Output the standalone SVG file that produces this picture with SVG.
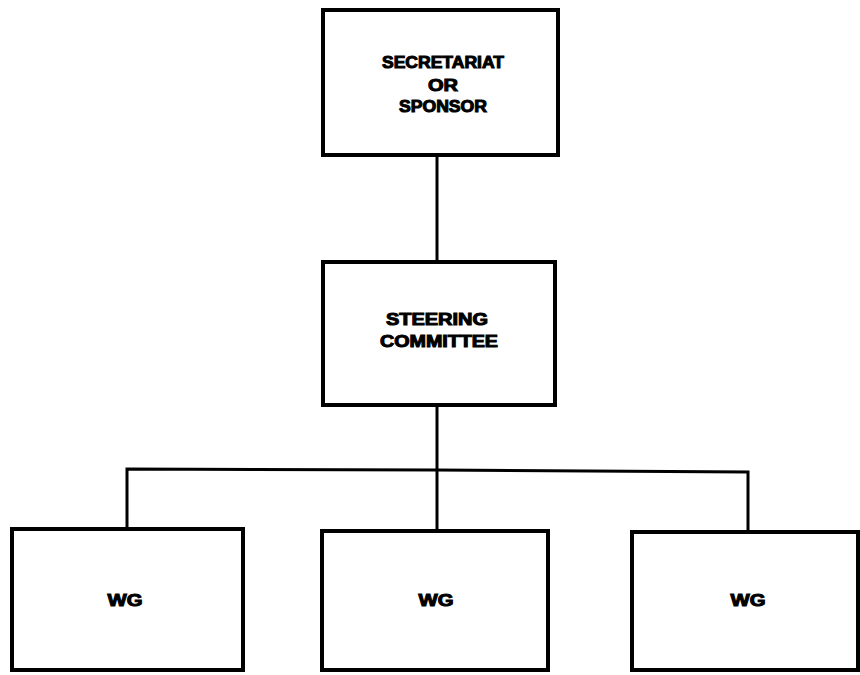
<svg xmlns="http://www.w3.org/2000/svg" width="860" height="675" viewBox="0 0 860 675">
<style>
.box{fill:#fff;stroke:#000;stroke-width:4}
.ln{fill:none;stroke:#000;stroke-width:3}
.t{font-family:"Liberation Sans",Arial,sans-serif;font-weight:bold;font-size:16px;text-anchor:middle;fill:#000;stroke:#000;stroke-width:1}
</style>
<rect width="860" height="675" fill="#fff"/>
<g id="connectors">
<line class="ln" x1="437" y1="155" x2="437" y2="262"/>
<line class="ln" x1="437" y1="405" x2="437" y2="531"/>
<polyline class="ln" points="127,529 127,469 437,470 748,472 748,532"/>
</g>
<g id="secretariat">
<rect class="box" x="323" y="10" width="235" height="145"/>
<text class="t" x="443" y="68" textLength="122" lengthAdjust="spacingAndGlyphs">SECRETARIAT</text>
<text class="t" x="443" y="91" textLength="30" lengthAdjust="spacingAndGlyphs">OR</text>
<text class="t" x="443" y="112" textLength="88" lengthAdjust="spacingAndGlyphs">SPONSOR</text>
</g>
<g id="steering">
<rect class="box" x="323" y="262" width="232" height="143"/>
<text class="t" x="437" y="325" textLength="102" lengthAdjust="spacingAndGlyphs">STEERING</text>
<text class="t" x="439" y="347" textLength="118" lengthAdjust="spacingAndGlyphs">COMMITTEE</text>
</g>
<g id="wg1">
<rect class="box" x="12" y="529" width="231" height="141"/>
<text class="t" x="125" y="606" textLength="35" lengthAdjust="spacingAndGlyphs">WG</text>
</g>
<g id="wg2">
<rect class="box" x="322" y="531" width="226" height="139"/>
<text class="t" x="436" y="606" textLength="35" lengthAdjust="spacingAndGlyphs">WG</text>
</g>
<g id="wg3">
<rect class="box" x="632" y="532" width="226" height="138"/>
<text class="t" x="748" y="606" textLength="35" lengthAdjust="spacingAndGlyphs">WG</text>
</g>
</svg>
